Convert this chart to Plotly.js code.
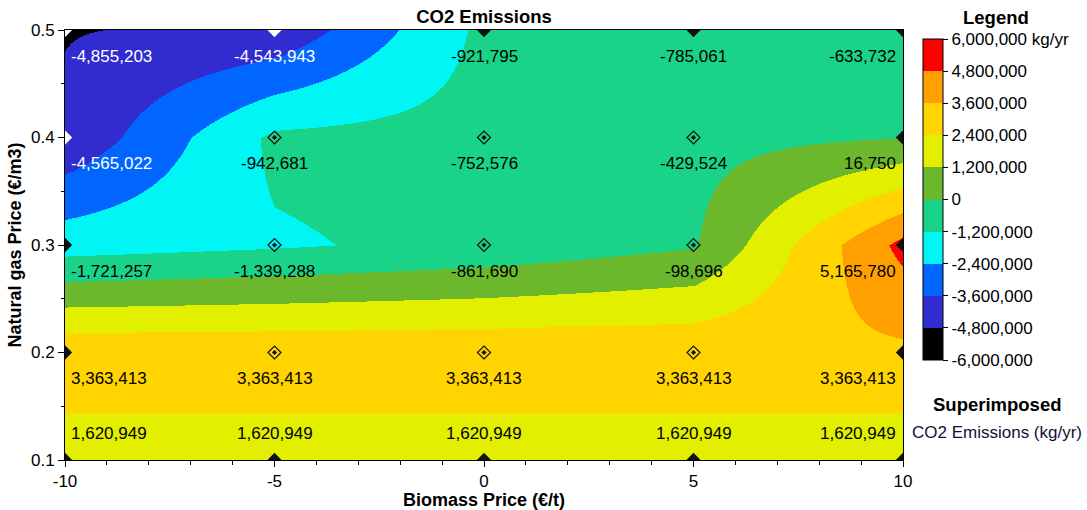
<!DOCTYPE html>
<html>
<head>
<meta charset="utf-8">
<script src="https://cdn.plot.ly/plotly-3.0.1.min.js"></script>
<style>
  html, body { margin: 0; padding: 0; background: #ffffff; }
  #chart { width: 1087px; height: 510px; }
</style>
</head>
<body>
<div id="chart"></div>
<script>
// Sensitivity cases: biomass price (€/t) across, natural gas price (€/m3) up
const biomassPrice = [-10, -5, 0, 5, 10];
const gasPrice = [0.1, 0.2, 0.3, 0.4, 0.5];

// CO2 emissions (kg/yr) for each gas price row, one value per biomass price
const emissionsGas01 = [1620949, 1620949, 1620949, 1620949, 1620949];
const emissionsGas02 = [3363413, 3363413, 3363413, 3363413, 3363413];
const emissionsGas03 = [-1721257, -1339288, -861690, -98696, 5165780];
const emissionsGas04 = [-4565022, -942681, -752576, -429524, 16750];
const emissionsGas05 = [-4855203, -4543943, -921795, -785061, -633732];

// Legend bands (kg/yr) and their fill colours, lowest first
const bandEdges = [-6000000, -4800000, -3600000, -2400000, -1200000, 0,
                   1200000, 2400000, 3600000, 4800000, 6000000];
const bandColors = ['#000000', '#302cd0', '#0066ff', '#00f5f5', '#19d389',
                    '#6cb82c', '#e2f000', '#ffd400', '#ffa000', '#ff0000'];
const bandLabels = ['-6,000,000', '-4,800,000', '-3,600,000', '-2,400,000', '-1,200,000', '0',
                    '1,200,000', '2,400,000', '3,600,000', '4,800,000', '6,000,000 kg/yr'];

const xTickLabels = ['-10', '-5', '0', '5', '10'];
const yTickLabels = ['0.1', '0.2', '0.3', '0.4', '0.5'];

const emissions = [emissionsGas01, emissionsGas02, emissionsGas03, emissionsGas04, emissionsGas05];

// ---- geometry of the page ----
const W = 1087, H = 510;
const plot = { l: 65, r: 903, t: 30, b: 460 };
const paperX = px => (px - plot.l) / (plot.r - plot.l);
const paperY = py => (plot.b - py) / (plot.b - plot.t);
const bar = { left: 923, right: 943, top: 39, bottom: 360 };

const FONT = 'Liberation Sans, Arial, sans-serif';
const zMin = bandEdges[0], zMax = bandEdges[bandEdges.length - 1];
const darkLimit = bandEdges[2];   // marks and labels turn white below this

// stepped colour scale: one flat band per legend interval
const colorscale = [];
bandColors.forEach((c, i) => {
  colorscale.push([i / bandColors.length, c]);
  colorscale.push([(i + 1) / bandColors.length, c]);
});

function fmt(v) {
  const s = String(Math.abs(v)).replace(/\B(?=(\d{3})+(?!\d))/g, ',');
  return v < 0 ? '-' + s : s;
}

const surface = {
  type: 'heatmap',
  x: biomassPrice,
  y: gasPrice,
  z: emissions,
  zsmooth: 'best',
  zmin: zMin,
  zmax: zMax,
  zauto: false,
  colorscale: colorscale,
  hoverinfo: 'skip',
  showscale: true,
  colorbar: {
    x: paperX(bar.left), xanchor: 'left', xpad: 0,
    y: paperY((bar.top + bar.bottom) / 2), yanchor: 'middle', ypad: 0,
    thicknessmode: 'pixels', thickness: bar.right - bar.left,
    lenmode: 'pixels', len: bar.bottom - bar.top,
    outlinewidth: 1, outlinecolor: '#000000', borderwidth: 0,
    tickmode: 'array', tickvals: bandEdges, ticktext: bandLabels,
    ticks: 'outside', ticklen: 5, tickwidth: 1, tickcolor: '#000000',
    tickfont: { family: FONT, size: 17, color: '#000000' }
  }
};

// grid point markers: framed diamonds inside, solid diamonds on the border
const inner = { x: [], y: [], c: [] }, border = { x: [], y: [], c: [] };
gasPrice.forEach((gy, j) => {
  biomassPrice.forEach((bx, i) => {
    const onEdge = i === 0 || i === biomassPrice.length - 1 || j === 0 || j === gasPrice.length - 1;
    const target = onEdge ? border : inner;
    target.x.push(bx);
    target.y.push(gy);
    target.c.push(emissions[j][i] < darkLimit ? '#ffffff' : '#111111');
  });
});

const innerFrames = {
  type: 'scatter', mode: 'markers', x: inner.x, y: inner.y, hoverinfo: 'skip',
  cliponaxis: true, showlegend: false,
  marker: { symbol: 'diamond-open', size: 10, color: inner.c, line: { width: 1.2, color: inner.c } }
};
const innerCores = {
  type: 'scatter', mode: 'markers', x: inner.x, y: inner.y, hoverinfo: 'skip',
  cliponaxis: true, showlegend: false,
  marker: { symbol: 'diamond', size: 4, color: inner.c, line: { width: 0 } }
};
const borderMarks = {
  type: 'scatter', mode: 'markers', x: border.x, y: border.y, hoverinfo: 'skip',
  cliponaxis: true, showlegend: false,
  marker: { symbol: 'diamond', size: 11, color: border.c, line: { width: 0 } }
};

// value labels under each grid point (above it on the lowest row)
const annotations = [];
gasPrice.forEach((gy, j) => {
  biomassPrice.forEach((bx, i) => {
    const v = emissions[j][i];
    const first = i === 0, last = i === biomassPrice.length - 1;
    annotations.push({
      xref: 'x', yref: 'y', x: bx, y: gy,
      text: fmt(v), showarrow: false, borderpad: 0,
      xanchor: first ? 'left' : (last ? 'right' : 'center'),
      xshift: first ? 5 : (last ? -6.5 : 0),
      yanchor: 'middle',
      yshift: j === 0 ? 27 : -26,
      font: { family: FONT, size: 17, color: v < darkLimit ? '#ffffff' : '#000000' }
    });
  });
});

// legend headings
annotations.push({
  xref: 'paper', yref: 'paper', x: paperX(996), y: paperY(17), showarrow: false,
  xanchor: 'center', yanchor: 'middle', text: 'Legend',
  font: { family: FONT, size: 18.5, weight: 'bold', color: '#000000' }
});
annotations.push({
  xref: 'paper', yref: 'paper', x: paperX(997), y: paperY(404), showarrow: false,
  xanchor: 'center', yanchor: 'middle', text: 'Superimposed',
  font: { family: FONT, size: 18.5, weight: 'bold', color: '#000000' }
});
annotations.push({
  xref: 'paper', yref: 'paper', x: paperX(997), y: paperY(432), showarrow: false,
  xanchor: 'center', yanchor: 'middle', text: 'CO2 Emissions (kg/yr)',
  font: { family: FONT, size: 17, color: '#111133' }
});

// band separators across the colour bar
const shapes = bandEdges.slice(1, -1).map(v => {
  const py = bar.top + (zMax - v) / (zMax - zMin) * (bar.bottom - bar.top);
  return {
    type: 'line', xref: 'paper', yref: 'paper',
    x0: paperX(bar.left), x1: paperX(bar.right), y0: paperY(py), y1: paperY(py),
    line: { color: '#000000', width: 1 }
  };
});

const axisCommon = {
  showgrid: false, zeroline: false, showline: true, mirror: true,
  linecolor: '#000000', linewidth: 1,
  ticks: 'outside', ticklen: 6, tickwidth: 1, tickcolor: '#000000',
  tickmode: 'array',
  tickfont: { family: FONT, size: 17, color: '#000000' }
};

const layout = {
  width: W, height: H, autosize: false,
  margin: { l: plot.l, r: W - plot.r, t: plot.t, b: H - plot.b, pad: 0 },
  paper_bgcolor: '#ffffff', plot_bgcolor: '#ffffff',
  font: { family: FONT, color: '#000000' },
  showlegend: false,
  title: {
    text: 'CO2 Emissions', xref: 'paper', x: 0.5, xanchor: 'center',
    yref: 'container', y: 1 - 17 / H, yanchor: 'middle',
    font: { family: FONT, size: 18.5, weight: 'bold', color: '#000000' }
  },
  xaxis: Object.assign({}, axisCommon, {
    range: [biomassPrice[0], biomassPrice[biomassPrice.length - 1]],
    tickvals: biomassPrice, ticktext: xTickLabels,
    minor: { tickmode: 'linear', tick0: -10, dtick: 1, ticks: 'outside', ticklen: 4, tickcolor: '#000000', showgrid: false },
    title: { text: 'Biomass Price (€/t)', standoff: 6,
             font: { family: FONT, size: 18, weight: 'bold', color: '#000000' } }
  }),
  yaxis: Object.assign({}, axisCommon, {
    range: [gasPrice[0], gasPrice[gasPrice.length - 1]],
    tickvals: gasPrice, ticktext: yTickLabels,
    minor: { tickmode: 'linear', tick0: 0.1, dtick: 0.05, ticks: 'outside', ticklen: 3, tickcolor: '#000000', showgrid: false },
    title: { text: 'Natural gas Price (€/m3)', standoff: 4,
             font: { family: FONT, size: 18, weight: 'bold', color: '#000000' } }
  }),
  annotations: annotations,
  shapes: shapes
};

Plotly.newPlot('chart', [surface, innerFrames, innerCores, borderMarks], layout, { displayModeBar: false, staticPlot: true });
</script>
</body>
</html>
